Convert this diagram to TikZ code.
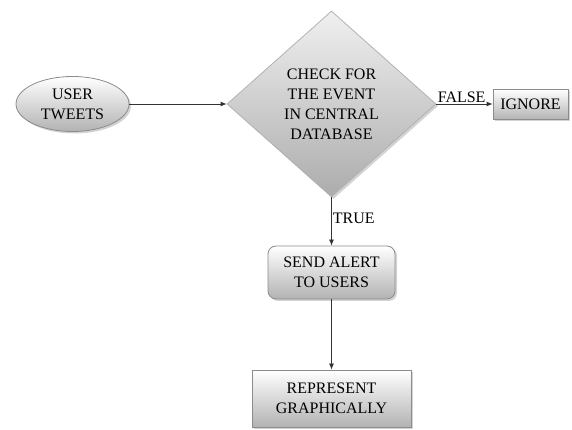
\documentclass[tikz,border=0pt]{standalone}
\usepackage{fontspec}
\setmainfont{Liberation Serif}
\usetikzlibrary{shapes.geometric,shadows,arrows.meta}
\begin{document}
\begin{tikzpicture}[x=1pt,y=1pt,
  every node/.style={font=\fontsize{16}{20}\selectfont, text=black, align=center},
  shade1/.style={top color=white, bottom color=gray!60},
  shadowed/.style={drop shadow={shadow xshift=2pt, shadow yshift=-2pt, opacity=0.35, fill=gray}},
  ovalnode/.style={ellipse, draw=gray!90, thick, shade1, shadowed, minimum width=113pt, minimum height=55pt, inner sep=0pt},
  decision/.style={diamond, draw=gray!60, thick, top color=gray!12, bottom color=gray!65, shadowed, minimum width=209pt, minimum height=186pt, inner sep=0pt},
  boxnode/.style={rectangle, draw=gray!90, thick, shade1, shadowed, inner sep=0pt},
  roundbox/.style={boxnode, rounded corners=8pt},
  arr/.style={draw=black!80, thick, -{Latex[length=6pt,width=5pt]}},
  lbl/.style={font=\fontsize{16}{20}\selectfont, inner sep=1pt}
]
\useasboundingbox (0,0) rectangle (572,430);
\node[ovalnode] (tweets) at (72.5,326) {USER\\TWEETS};
\node[decision] (check) at (331.5,326) {CHECK FOR\\THE EVENT\\IN CENTRAL\\DATABASE};
\node[boxnode, minimum width=75pt, minimum height=30pt] (ignore) at (530.5,325.5) {IGNORE};
\node[roundbox, minimum width=127pt, minimum height=53pt] (alert) at (331.5,157.5) {SEND ALERT\\TO USERS};
\node[boxnode, minimum width=159pt, minimum height=57pt] (graph) at (331.5,31.5) {REPRESENT\\GRAPHICALLY};
\draw[arr] (tweets.east) -- (check.west);
\draw[arr] (check.east) -- node[lbl, pos=0, anchor=south west] {FALSE} (check.east -| ignore.west);
\draw[arr] (check.south) -- node[lbl, pos=0.44, anchor=west] {TRUE} (alert.north);
\draw[arr] (alert.south) -- (graph.north);
\end{tikzpicture}
\end{document}
